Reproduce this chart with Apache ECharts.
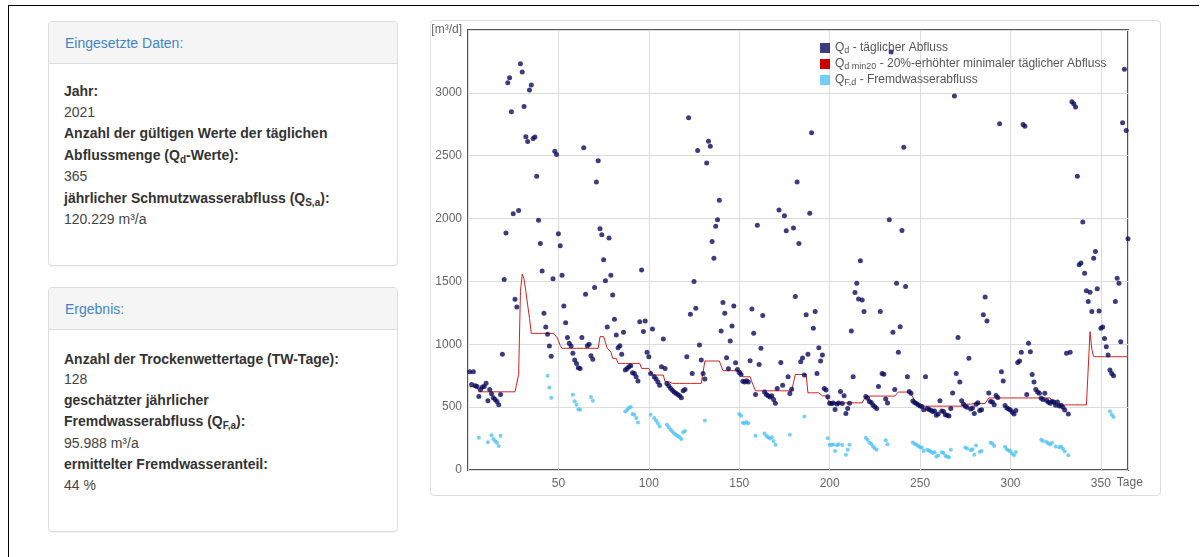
<!DOCTYPE html>
<html><head><meta charset="utf-8">
<script src="https://cdn.jsdelivr.net/npm/echarts@6/dist/echarts.min.js"></script>
<style>
body{margin:0;background:#fff;font-family:"Liberation Sans",Arial,Helvetica,sans-serif;}
#page{position:relative;width:1202px;height:557px;overflow:hidden;background:#fff;}
.frame{position:absolute;left:8px;top:5px;width:1190px;height:600px;border-top:1px solid #000;border-left:1px solid #000;}
.panel{position:absolute;left:48px;width:348px;border:1px solid #ddd;border-radius:4px;background:#fff;box-shadow:0 1px 1px rgba(0,0,0,.05);}
.ph{background:#f5f5f5;border-bottom:1px solid #ddd;height:42px;box-sizing:border-box;padding-left:16px;line-height:42px;color:#4384c6;font-size:14px;border-radius:3px 3px 0 0;}
.ln{position:absolute;left:64px;font-size:14px;line-height:16px;height:16px;white-space:nowrap;color:#444;}
.b{font-weight:bold;color:#333;}
sub{font-size:10px;vertical-align:-3px;line-height:0;}
#box{position:absolute;left:430px;top:20px;width:729px;height:474px;border:1px solid #ddd;border-radius:4px;}
#chart{position:absolute;left:0;top:0;width:1202px;height:557px;}
</style></head>
<body><div id="page">
<div class="frame"></div>
<div class="panel" style="top:21px;height:243px;"><div class="ph">Eingesetzte Daten:</div></div>
<div class="ln b" style="top:83px">Jahr:</div>
<div class="ln" style="top:104px">2021</div>
<div class="ln b" style="top:125px">Anzahl der gültigen Werte der täglichen</div>
<div class="ln b" style="top:147px">Abflussmenge (Q<sub>d</sub>-Werte):</div>
<div class="ln" style="top:168px">365</div>
<div class="ln b" style="top:190px">jährlicher Schmutzwasserabfluss (Q<sub>S,a</sub>):</div>
<div class="ln" style="top:211px">120.229 m³/a</div>
<div class="panel" style="top:287px;height:243px;"><div class="ph">Ergebnis:</div></div>
<div class="ln b" style="top:351px">Anzahl der Trockenwettertage (TW-Tage):</div>
<div class="ln" style="top:371px">128</div>
<div class="ln b" style="top:392px">geschätzter jährlicher</div>
<div class="ln b" style="top:413px">Fremdwasserabfluss (Q<sub>F,a</sub>):</div>
<div class="ln" style="top:435px">95.988 m³/a</div>
<div class="ln b" style="top:456px">ermittelter Fremdwasseranteil:</div>
<div class="ln" style="top:477px">44 %</div>
<div id="box"></div>
<div id="chart"></div>
</div>
<script>
// daily discharge Qd [m³/d], day 1..365
const qd = [
782,680,782,670,665,585,640,660,665,690,
550,640,606,575,560,545,520,601,920,1515,
1885,3081,3120,2850,2039,1358,1297,2065,3232,3166,
2892,2650,2613,3022,3062,2637,2648,2337,1986,1802,
1582,1247,1138,1079,986,904,1521,2536,2509,1879,
1784,1550,1305,1172,1053,1008,986,928,875,848,
813,808,1053,2563,1398,989,1000,909,880,1451,
2291,2459,1919,1871,1672,1505,1138,1845,1550,1393,
1199,1074,973,989,920,1095,795,808,822,830,
774,768,742,707,1180,1590,1101,1186,936,901,
768,1122,742,723,700,675,822,1042,808,689,
670,650,635,620,610,600,590,575,630,640,
901,2802,1239,768,1500,1287,2541,994,875,768,
723,2443,2616,2576,1818,1685,1938,1991,2145,1106,
1332,1247,893,805,1026,1146,1305,853,800,775,
760,705,700,710,700,869,1281,1087,601,1946,
840,968,1228,620,600,590,580,590,560,530,
649,2068,856,675,2023,1903,742,609,643,1925,
1380,2291,1802,861,890,755,1234,920,2042,2682,
1127,1260,768,973,867,914,649,636,582,530,
528,532,481,525,533,625,528,590,450,490,
530,1106,742,1412,1486,1361,1664,1353,1260,585,
570,545,536,515,503,490,664,1260,768,761,
565,533,1991,3325,1095,640,1486,936,1140,1906,
2568,1460,742,625,610,548,537,529,519,509,
505,480,742,490,482,476,465,470,436,445,
550,470,465,440,436,430,490,612,2975,768,
1053,700,550,524,508,500,888,486,494,450,
524,535,474,480,1234,1377,1186,612,545,540,
520,593,577,2754,782,707,513,494,485,478,
459,446,473,856,867,936,2749,2735,600,1008,
941,760,700,640,620,610,570,560,610,552,
539,531,545,540,515,540,510,515,499,478,
928,446,936,2929,2913,2887,2337,1632,1646,1972,
1566,1425,1340,1414,1260,1685,1738,1441,1265,1127,
1138,1047,981,915,796,768,750,1340,1526,1486,
1021,2762,3187,2701,1840
];
// 20%-elevated minimum daily discharge Qd,min20 [m³/d], day 1..365
const qmin = [
662,662,662,662,662,622,622,622,622,622,
622,622,622,622,622,622,622,622,622,622,
622,622,622,622,622,622,622,760,1420,1558,
1520,1420,1313,1207,1087,1087,1087,1087,1087,1087,
1087,1087,1087,1087,1087,1087,1087,1087,1060,1030,
990,968,968,968,968,968,968,968,968,968,
968,968,968,968,968,968,968,968,968,968,
968,968,1061,1061,1061,1061,968,968,940,888,
888,888,848,848,848,848,848,848,848,848,
848,848,848,848,848,808,808,808,808,808,
808,755,755,755,755,755,755,755,702,702,
702,689,689,689,689,689,689,689,689,689,
689,689,689,689,689,689,689,689,689,689,
867,867,867,867,867,867,867,867,867,867,
790,790,790,790,790,790,790,790,790,790,
790,742,742,742,742,742,700,700,630,630,
630,630,630,630,630,630,630,630,630,630,
630,630,630,630,630,630,630,630,630,630,
760,760,760,760,760,760,760,614,614,614,
614,614,614,614,614,590,590,590,590,534,
534,534,534,534,534,534,534,534,534,534,
534,534,534,534,534,534,534,534,534,588,
588,588,588,588,588,588,588,588,588,588,
588,588,588,588,588,588,588,620,620,620,
620,620,620,620,605,580,550,535,522,512,
508,508,508,508,508,508,508,508,508,508,
508,508,508,508,508,508,508,508,508,508,
508,508,508,524,524,524,524,524,529,529,
529,529,529,529,529,529,529,573,573,573,
573,573,573,573,573,573,573,573,573,573,
573,573,573,573,573,573,573,573,573,573,
573,573,573,573,573,573,573,573,573,573,
573,573,573,518,518,518,518,518,518,518,
518,518,518,518,518,518,518,518,518,518,
518,518,518,1100,960,901,901,901,901,901,
901,901,901,901,901,901,901,901,901,901,
901,901,901,901,901
];
// dry-weather days and their infiltration discharge QF,d [m³/d]
const twDays = [6,11,13,14,15,16,17,18,44,45,46,58,59,60,61,62,68,69,87,88,89,90,91,92,93,94,
101,103,104,105,106,110,111,112,113,114,115,116,117,118,119,120,131,150,151,152,153,154,155,159,
164,165,166,167,168,169,170,178,186,199,200,201,202,203,204,205,207,209,210,211,
220,221,222,223,224,225,226,231,232,246,247,248,249,250,251,252,254,255,256,257,258,259,260,
262,263,264,265,266,267,275,276,278,279,280,281,283,284,289,290,291,297,298,299,300,301,302,303,
317,318,320,321,322,323,325,327,328,329,330,332,355,356,357];
const qf = [256,221,277,246,231,216,191,272,750,657,575,599,546,519,484,479,580,551,466,479,493,501,445,439,413,378,
439,413,394,371,346,360,341,321,306,291,281,271,261,246,301,311,394,446,431,376,371,381,371,272,
291,271,261,251,261,231,201,280,426,253,201,199,203,152,196,204,199,121,161,201,
256,241,216,207,186,174,161,236,204,219,208,200,190,180,176,151,161,153,147,136,141,107,116,
141,136,111,107,101,161,179,171,157,165,121,195,145,151,216,211,191,184,165,156,149,130,117,144,
241,231,223,210,202,216,186,181,186,170,149,117,467,439,421];
// axis texts
const yUnit = '[m³/d]';
const xUnit = 'Tage';
const legendParts = {
  Qd: ['d', ' - täglicher Abfluss'],
  Qmin: ['d min20', ' - 20%-erhöhter minimaler täglicher Abfluss'],
  QF: ['F,d', ' - Fremdwasserabfluss']
};

const chart = echarts.init(document.getElementById('chart'), null, {renderer:'canvas'});
const font = '"Liberation Sans", Arial, sans-serif';
chart.setOption({
  animation: false,
  backgroundColor: 'transparent',
  textStyle: {fontFamily: font},
  grid: {left: 468, top: 30, width: 660, height: 440, show: true, borderColor: '#555', borderWidth: 2, backgroundColor: 'transparent'},
  legend: {
    data: ['Qd','Qmin','QF'], orient: 'vertical', left: 815, top: 37,
    itemWidth: 10, itemHeight: 10, itemGap: 3, icon: 'rect',
    formatter: n => '{m|Q}{s|' + legendParts[n][0] + '}{m|' + legendParts[n][1] + '}',
    textStyle: {color: '#555', fontFamily: font,
      rich: {m: {fontSize: 12, color: '#555', lineHeight: 14, fontFamily: font},
             s: {fontSize: 9, color: '#555', lineHeight: 14, verticalAlign: 'bottom', padding: [4,0,0,0], fontFamily: font}}}
  },
  xAxis: {
    type: 'value', min: 0, max: 365, interval: 50,
    name: xUnit, nameLocation: 'end', nameGap: -16,
    nameTextStyle: {align: 'left', verticalAlign: 'top', padding: [7,0,0,0], color: '#666', fontSize: 12, fontFamily: font},
    axisLine: {show: false}, axisTick: {show: false},
    axisLabel: {showMinLabel: false, showMaxLabel: false, color: '#666', fontSize: 12, margin: 8, fontFamily: font},
    splitLine: {show: true, lineStyle: {color: '#dcdcdc', width: 1}}
  },
  yAxis: {
    type: 'value', min: 0, max: 3500, interval: 500,
    axisLine: {show: false}, axisTick: {show: false},
    axisLabel: {color: '#666', fontSize: 12, margin: 6, fontFamily: font,
      formatter: v => v === 3500 ? yUnit : String(v)},
    splitLine: {show: true, lineStyle: {color: '#dcdcdc', width: 1}}
  },
  series: [
    {name: 'QF', type: 'scatter', data: twDays.map((d, i) => [d, qf[i]]), symbolSize: 4,
     itemStyle: {color: '#4fc3f7'}, z: 2},
    {name: 'Qmin', type: 'line', data: qmin.map((v, i) => [i + 1, v]), showSymbol: false, symbol: 'none',
     lineStyle: {color: '#d02020', width: 1}, itemStyle: {color: '#cc0000'}, z: 3},
    {name: 'Qd', type: 'scatter', data: qd.map((v, i) => [i + 1, v]), symbolSize: 5,
     itemStyle: {color: '#0b0b5e'}, z: 4}
  ]
});
</script>
</body></html>
